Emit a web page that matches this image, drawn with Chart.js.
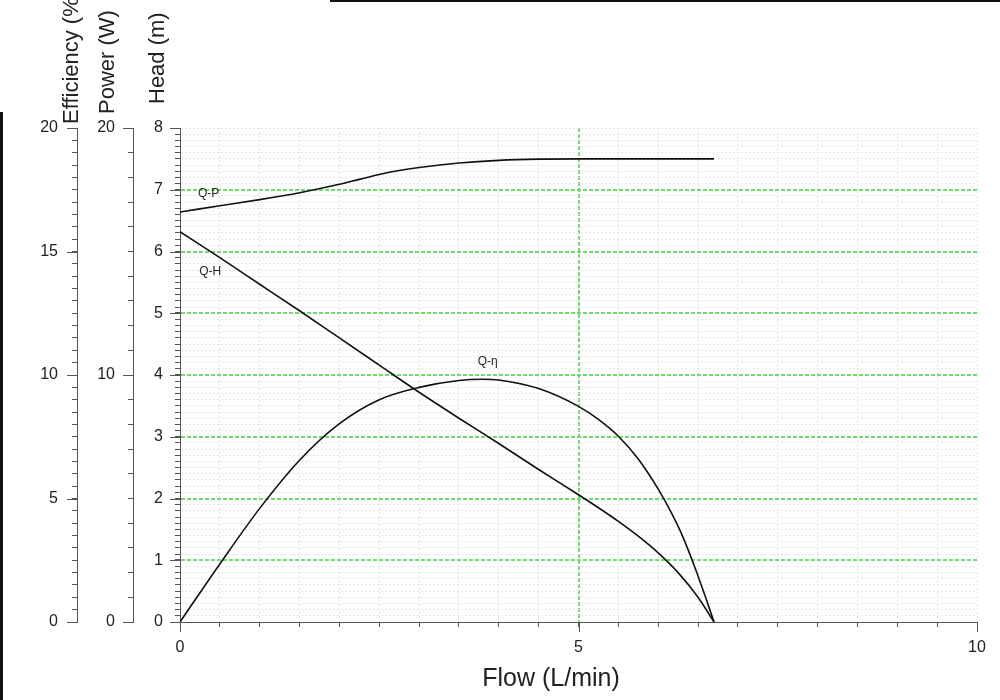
<!DOCTYPE html>
<html>
<head>
<meta charset="utf-8">
<title>Pump curves</title>
<script src="https://cdn.jsdelivr.net/npm/chart.js@4.4.0/dist/chart.umd.min.js"></script>
<style>
  html, body { margin: 0; padding: 0; background: #fff; }
  #wrap { width: 1000px; height: 700px; position: relative; }
</style>
</head>
<body>
<div id="wrap"><canvas id="pumpChart"></canvas></div>
<script>
// Q-H curve (head in m)
const flowHead = [0, 0.5, 1, 1.5, 2, 2.5, 3, 3.5, 4, 4.5, 5, 5.25, 5.5, 5.75, 6, 6.25, 6.5, 6.7];
const head = [6.32, 5.9, 5.47, 5.04, 4.6, 4.16, 3.72, 3.3, 2.89, 2.47, 2.06, 1.85, 1.63, 1.39, 1.12, 0.8, 0.4, 0];

// Q-P curve (power in W)
const flowPower = [0, 0.5, 1, 1.5, 2, 2.25, 2.5, 2.75, 3, 3.5, 4, 4.5, 5, 6, 6.7];
const power = [16.6, 16.85, 17.1, 17.38, 17.72, 17.92, 18.12, 18.28, 18.4, 18.58, 18.69, 18.74, 18.75, 18.75, 18.75];

// Q-eta curve (efficiency in %)
const flowEff = [0, 0.5, 1, 1.5, 2, 2.5, 3, 3.5, 3.8, 4, 4.5, 5, 5.25, 5.5, 5.75, 6, 6.15, 6.3, 6.45, 6.6, 6.7];
const efficiency = [0, 2.35, 4.6, 6.55, 8.03, 9.0, 9.5, 9.78, 9.83, 9.8, 9.45, 8.73, 8.2, 7.52, 6.6, 5.38, 4.52, 3.52, 2.3, 0.95, 0];

// labelled ticks
const flowLabels = [0, 5, 10];
const headLabels = [0, 1, 2, 3, 4, 5, 6, 7, 8];
const powerLabels = [0, 10, 20];
const effLabels = [0, 5, 10, 15, 20];

// curve names, placed in flow / head units
const curveNames = ['Q-P', 'Q-H', 'Q-η'];
const curveNameFlow = [0.36, 0.38, 3.86];
const curveNameHead = [6.93, 5.67, 4.21];

const FONT = "'Liberation Sans', Arial, sans-serif";
Chart.defaults.font.family = FONT;
Chart.defaults.color = '#222';

function isLabel(list, v) {
  return list.some(l => Math.abs(l - v) < 1e-6);
}
function tickText(list) {
  return v => isLabel(list, v) ? String(Math.round(v)) : '';
}
function toPoints(xs, ys) {
  return xs.map((x, i) => ({ x: x, y: ys[i] }));
}

const GREEN = '#70dc70';
const MINOR = '#e4e4e4';
const CLEAR = 'rgba(0,0,0,0)';

// green lines at whole metres (not at 0 and 8), at 5 L/min on the flow axis
function headMajor(c) {
  return c.index % 10 === 0 && c.index > 0 && c.index < 80;
}
function flowMajor(c) {
  return c.index === 10;
}

// extra drawing: long major ticks, curve names, axis titles, frame lines
const extrasPlugin = {
  id: 'extras',
  afterDraw(chart) {
    const ctx = chart.ctx;
    ctx.save();
    ctx.strokeStyle = '#555';
    ctx.lineWidth = 1;

    const yAxes = [['yE', effLabels], ['yP', powerLabels], ['yH', headLabels]];
    yAxes.forEach(([id, list]) => {
      const s = chart.scales[id];
      list.forEach(v => {
        const y = Math.round(s.getPixelForValue(v)) + 0.5;
        ctx.beginPath();
        ctx.moveTo(s.right - 10, y);
        ctx.lineTo(s.right, y);
        ctx.stroke();
      });
    });
    const sx = chart.scales.x;
    flowLabels.forEach(v => {
      const x = Math.round(sx.getPixelForValue(v)) + 0.5;
      ctx.beginPath();
      ctx.moveTo(x, sx.top);
      ctx.lineTo(x, sx.top + 10);
      ctx.stroke();
    });

    // curve names
    const sh = chart.scales.yH;
    ctx.fillStyle = '#222';
    ctx.font = '12px ' + FONT;
    ctx.textAlign = 'center';
    ctx.textBaseline = 'middle';
    curveNames.forEach((n, i) => {
      ctx.fillText(n, sx.getPixelForValue(curveNameFlow[i]), sh.getPixelForValue(curveNameHead[i]));
    });

    // axis titles
    ctx.font = '22px ' + FONT;
    ctx.textAlign = 'left';
    function vTitle(text, x, yBottom) {
      ctx.save();
      ctx.translate(x, yBottom);
      ctx.rotate(-Math.PI / 2);
      ctx.fillText(text, 0, 0);
      ctx.restore();
    }
    vTitle('Efficiency (%)', 72, 124);
    vTitle('Power (W)', 108, 114);
    vTitle('Head (m)', 158, 104);

    ctx.font = '25px ' + FONT;
    ctx.textAlign = 'center';
    ctx.textBaseline = 'alphabetic';
    ctx.fillText('Flow (L/min)', 551, 686);

    // frame lines
    ctx.strokeStyle = '#111';
    ctx.lineWidth = 2;
    ctx.beginPath();
    ctx.moveTo(330, 1);
    ctx.lineTo(1000, 1);
    ctx.stroke();
    ctx.lineWidth = 3;
    ctx.beginPath();
    ctx.moveTo(1.5, 112);
    ctx.lineTo(1.5, 700);
    ctx.stroke();
    ctx.restore();
  }
};

const lineStyle = {
  borderColor: '#111',
  borderWidth: 1.6,
  pointRadius: 0,
  fill: false,
  cubicInterpolationMode: 'monotone'
};

const data = {
  datasets: [
    Object.assign({ label: 'Q-P', data: toPoints(flowPower, power), yAxisID: 'yP' }, lineStyle),
    Object.assign({ label: 'Q-H', data: toPoints(flowHead, head), yAxisID: 'yH' }, lineStyle),
    Object.assign({ label: 'Q-η', data: toPoints(flowEff, efficiency), yAxisID: 'yE' }, lineStyle)
  ]
};

const tickFont = { size: 16 };

const config = {
  type: 'line',
  data: data,
  options: {
    responsive: true,
    maintainAspectRatio: false,
    animation: false,
    layout: { padding: { top: 128, right: 23, left: 0, bottom: 0 } },
    plugins: {
      legend: { display: false },
      tooltip: { enabled: false }
    },
    scales: {
      x: {
        type: 'linear',
        min: 0,
        max: 10,
        afterFit: s => { s.height = 78; },
        ticks: { stepSize: 0.5, autoSkip: false, maxRotation: 0, padding: 11, font: tickFont, callback: tickText(flowLabels) },
        grid: {
          tickLength: 5,
          tickColor: '#555',
          color: c => flowMajor(c) ? GREEN : (c.index === 0 ? CLEAR : MINOR),
          lineWidth: c => flowMajor(c) ? 2 : 1
        },
        border: { color: '#555', width: 1, dash: c => flowMajor(c) ? [4, 2] : [2, 2] }
      },
      yE: {
        type: 'linear',
        position: 'left',
        weight: 3,
        min: 0,
        max: 20,
        afterFit: s => { s.width = 77; },
        ticks: { stepSize: 0.5, autoSkip: false, padding: 14, font: tickFont, callback: tickText(effLabels) },
        grid: { drawOnChartArea: false, tickLength: 5, tickColor: '#555' },
        border: { color: '#555', width: 1 }
      },
      yP: {
        type: 'linear',
        position: 'left',
        weight: 2,
        min: 0,
        max: 20,
        afterFit: s => { s.width = 56; },
        ticks: { stepSize: 1, autoSkip: false, padding: 13, font: tickFont, callback: tickText(powerLabels) },
        grid: { drawOnChartArea: false, tickLength: 5, tickColor: '#555' },
        border: { color: '#555', width: 1 }
      },
      yH: {
        type: 'linear',
        position: 'left',
        weight: 1,
        min: 0,
        max: 8,
        afterFit: s => { s.width = 47; },
        ticks: { stepSize: 0.1, autoSkip: false, padding: 12, font: tickFont, callback: tickText(headLabels) },
        grid: {
          tickLength: 5,
          tickColor: '#555',
          color: c => headMajor(c) ? GREEN : (c.index === 0 ? CLEAR : MINOR),
          lineWidth: c => headMajor(c) ? 2 : 1
        },
        border: { color: '#555', width: 1, dash: c => headMajor(c) ? [4, 2] : [2, 2] }
      }
    }
  },
  plugins: [extrasPlugin]
};

const pumpChart = new Chart(document.getElementById('pumpChart'), config);
</script>
</body>
</html>
